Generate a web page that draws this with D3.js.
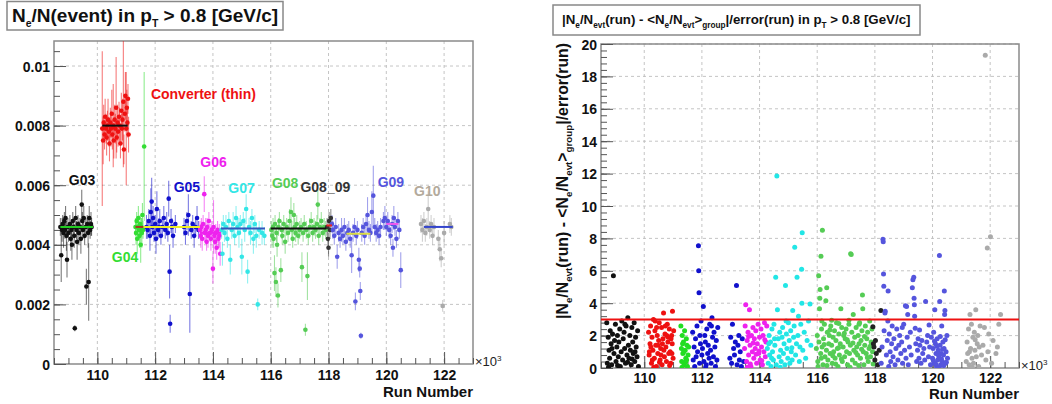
<!DOCTYPE html>
<html><head><meta charset="utf-8">
<script src="https://cdn.jsdelivr.net/npm/d3@7"></script>
<style>body{margin:0;background:#fff}svg{display:block;font-family:"Liberation Sans",Arial,sans-serif}</style>
</head><body><svg id="c" width="1052" height="404"></svg>
<script>
// ---------- axis data ----------
const runTicks = [110,112,114,116,118,120,122];           // x 10^3
const leftYTicks = [0,2,4,6,8,10];                          // units of 1e-3
const leftYTickLabels = ["0","0.002","0.004","0.006","0.008","0.01"];
const rightYTicks = [0,2,4,6,8,10,12,14,16,18,20];
const cutValue = 3;

// ---------- left panel: [run(x10^3), Ne/Nevt (x1e-3), error (x1e-3)] ----------
const g03L = [[108.72,4.6,.3],[108.75,3.65,.9],[108.78,4.5,.4],[108.8,4.7,.3],[108.83,4.4,.5],[108.86,4.8,.3],[108.88,4.5,.3],[108.9,4.9,.4],[108.93,4.3,.5],[108.95,3.5,.6],[108.98,4.6,.3],[109.0,4.4,.3],[109.05,4.7,.3],[109.08,4.2,.4],[109.1,4.5,.3],[109.12,4.0,.5],[109.15,4.8,.3],[109.18,4.6,.3],[109.2,4.3,.4],[109.22,1.2,.1],[109.25,4.9,.4],[109.28,4.5,.3],[109.3,4.1,.6],[109.33,4.7,.3],[109.36,4.4,.4],[109.4,4.6,.3],[109.43,4.2,.5],[109.46,5.35,.5],[109.48,4.8,.3],[109.5,4.5,.3],[109.53,4.9,.4],[109.56,4.3,.3],[109.6,4.6,.3],[109.62,2.6,.6],[109.65,4.7,.3],[109.68,4.4,.5],[109.7,2.75,1.3],[109.72,4.9,.4],[109.75,4.5,.3],[109.78,4.7,.4],[109.8,4.6,.3]];
const convL = [[110.17,7.9,2.6],[110.2,7.5,.8],[110.22,8.1,.6],[110.25,7.7,.5],[110.27,8.3,.6],[110.3,7.9,.5],[110.32,7.6,.6],[110.35,8.0,.5],[110.37,8.2,.7],[110.4,7.8,.5],[110.42,7.4,.6],[110.45,8.1,.5],[110.47,7.9,.6],[110.5,8.4,.8],[110.52,7.7,.5],[110.55,8.0,1.4],[110.57,7.5,.6],[110.6,8.2,.5],[110.62,7.9,.5],[110.65,8.6,1.7],[110.67,7.6,.5],[110.7,8.1,.6],[110.72,7.8,.5],[110.75,8.3,.5],[110.77,8.0,.6],[110.8,7.4,.5],[110.83,8.5,.6],[110.85,7.9,.5],[110.87,8.2,.7],[110.9,8.8,2.2],[110.92,7.2,.5],[110.95,8.4,.6],[110.97,9.0,.8],[111.0,7.9,1.9],[111.02,8.6,.6],[111.04,8.1,.5],[111.06,8.9,.5],[111.08,7.7,.6]];
const g04L = [[111.32,4.6,.3],[111.34,4.4,.4],[111.36,4.8,.3],[111.38,4.2,.5],[111.4,4.6,.3],[111.42,4.9,.4],[111.44,4.5,.3],[111.46,4.3,.4],[111.48,4.7,.3],[111.5,4.0,.6],[111.52,4.6,.3],[111.54,4.4,.5],[111.56,5.0,.4],[111.58,4.5,.3],[111.62,7.3,2.5]];
const g05L = [[111.7,4.6,.4],[111.74,4.5,.3],[111.78,4.8,.4],[111.82,4.3,.5],[111.85,5.1,.8],[111.88,5.45,.8],[111.9,4.6,.3],[111.93,4.9,.4],[111.96,4.4,.3],[112.0,4.7,.3],[112.03,4.2,.5],[112.06,5.2,.6],[112.1,4.5,.3],[112.13,4.6,.3],[112.16,4.8,.4],[112.2,4.3,.3],[112.25,4.6,.3],[112.3,4.9,.4],[112.35,4.5,.3],[112.4,4.7,.4],[112.44,4.4,.3],[112.47,5.55,.6],[112.5,3.1,.9],[112.52,1.35,.3],[112.55,4.8,.4],[112.58,4.6,.3],[112.62,4.3,.4],[112.7,4.7,.3],[113.0,4.6,.3],[113.05,4.4,.4],[113.1,4.8,.3],[113.15,5.0,.7],[113.2,2.35,1.3],[113.25,4.5,.3],[113.3,4.7,.3],[113.35,4.3,.4],[113.4,4.6,.3],[113.45,4.9,.4],[113.5,4.5,.3]];
const g06L = [[113.55,4.5,.3],[113.58,4.3,.4],[113.6,4.6,.3],[113.63,4.2,.4],[113.66,4.7,.3],[113.7,5.7,.6],[113.72,4.4,.3],[113.75,4.5,.4],[113.78,4.1,.3],[113.8,4.6,.3],[113.83,4.3,.4],[113.86,4.8,.3],[113.9,4.4,.3],[113.93,4.2,.4],[113.96,4.5,.3],[114.0,3.2,.5],[114.02,4.6,.9],[114.05,4.3,.3],[114.08,4.1,.4],[114.1,4.4,.3],[114.13,3.9,.4],[114.16,4.5,.3],[114.19,4.2,.3],[114.22,4.3,.4],[114.25,3.7,.4]];
const g07L = [[114.3,4.5,.3],[114.33,3.7,.4],[114.36,4.7,.3],[114.4,4.4,.3],[114.45,4.6,.4],[114.5,4.2,.3],[114.55,4.8,.3],[114.6,3.5,.5],[114.65,4.5,.3],[114.7,4.7,.4],[114.75,4.3,.3],[114.8,4.9,.4],[114.85,4.6,.3],[114.9,4.4,.5],[114.95,4.7,.3],[115.0,3.6,.6],[115.05,4.8,.3],[115.1,4.5,.4],[115.15,5.2,.5],[115.2,3.1,.4],[115.25,4.6,.3],[115.3,4.4,.4],[115.35,4.9,.3],[115.4,4.2,.5],[115.45,4.7,.3],[115.5,4.3,.4],[115.55,2.0,.2],[115.6,4.5,.3],[115.7,4.4,.4],[115.78,4.3,.3]];
const g08L = [[116.02,4.5,.3],[116.05,4.3,.4],[116.08,4.6,.3],[116.1,4.2,.3],[116.13,3.05,.6],[116.15,4.7,.3],[116.18,2.75,.5],[116.2,4.4,.3],[116.22,4.0,.4],[116.25,2.3,.4],[116.27,4.6,.3],[116.3,4.8,.3],[116.35,3.15,.4],[116.38,4.5,.3],[116.4,4.3,.3],[116.45,4.7,.3],[116.5,4.1,.4],[116.55,4.6,.3],[116.6,4.4,.3],[116.65,4.8,.4],[116.7,5.1,.5],[116.73,4.5,.3],[116.76,4.2,.3],[116.8,5.0,.4],[116.83,4.6,.3],[116.86,4.4,.3],[116.9,4.7,.3],[116.95,4.3,.3],[117.0,4.5,.3],[117.05,4.6,.3],[117.08,3.25,.5],[117.12,4.4,.3],[117.16,4.7,.3],[117.2,1.15,.2],[117.23,4.5,.3],[117.27,2.95,.8],[117.3,4.3,.3],[117.35,4.6,.3],[117.4,4.8,.3],[117.45,4.4,.3],[117.5,4.6,.3],[117.55,4.5,.3],[117.6,4.7,.3],[117.63,5.35,.5],[117.66,4.3,.3],[117.7,4.6,.3],[117.75,4.8,.3],[117.8,4.4,.3],[117.85,4.6,.3],[117.9,4.5,.3]];
const g0809L = [[117.95,4.6,.3],[117.98,4.2,.3],[118.0,3.9,.3],[118.02,4.8,.3],[118.05,4.5,.3],[118.08,4.9,.3]];
const g09L = [[118.12,4.7,.3],[118.15,4.5,.3],[118.2,4.3,.3],[118.25,4.6,.3],[118.3,3.6,.4],[118.35,4.4,.3],[118.4,4.2,.3],[118.45,4.5,.4],[118.5,4.3,.3],[118.55,4.6,.3],[118.6,4.1,.3],[118.65,4.4,.3],[118.7,4.5,.3],[118.75,4.2,.3],[118.8,3.65,.6],[118.85,4.4,.3],[118.9,4.6,.3],[118.93,2.1,.3],[118.96,4.3,.3],[119.0,4.5,.3],[119.05,3.5,.4],[119.08,3.2,.3],[119.1,2.45,.3],[119.12,0.95,.1],[119.15,4.4,.3],[119.2,4.6,.3],[119.25,4.3,.3],[119.3,4.7,.3],[119.35,5.0,.6],[119.4,4.5,.3],[119.45,4.4,.3],[119.5,5.1,.7],[119.55,5.65,1.0],[119.6,4.6,.3],[119.65,4.4,.3],[119.7,4.5,.3],[119.75,4.3,.3],[119.8,4.6,.3],[119.9,4.8,.3],[119.95,4.9,.4],[120.0,4.6,.3],[120.05,4.8,.3],[120.1,4.5,.3],[120.15,4.3,.3],[120.2,4.7,.3],[120.23,3.9,.3],[120.26,4.9,.4],[120.3,4.6,.3],[120.35,4.2,.3],[120.4,4.8,.3],[120.45,4.5,.3],[120.5,3.15,.6]];
const g10L = [[121.2,4.7,.3],[121.25,4.5,.4],[121.3,4.8,.3],[121.35,4.4,.3],[121.4,4.6,.3],[121.45,5.2,.6],[121.5,4.5,.3],[121.55,4.7,.3],[121.6,4.3,.3],[121.65,4.6,.3],[121.8,4.2,.3],[121.85,3.85,.4],[121.9,3.55,.3],[121.95,1.95,.2],[122.0,4.4,.4],[122.2,4.7,.3],[122.25,4.6,.3]];
// group mean lines: [from run, to run, mean (x1e-3), colour]
const meanLines = [[108.72,109.85,4.6,"#22cc22"],[110.17,111.05,8.0,"#111111"],[111.32,111.6,4.6,"#aa3322"],[111.6,113.55,4.6,"#eeee22"],[113.55,114.28,4.4,"#ee22ee"],[114.28,115.8,4.55,"#3355bb"],[116.0,117.92,4.55,"#111111"],[117.93,118.12,4.65,"#ee2222"],[118.62,119.45,4.37,"#dddd44"],[120.0,120.42,4.7,"#ee55ee"],[121.3,122.3,4.6,"#3344cc"]];
// group labels: [text, run, value (x1e-3), colour]
const groupLabels = [["G03",109.47,6.0,"#111111"],["Converter (thin)",113.67,8.9,"#ee1111"],["G04",110.96,3.42,"#33dd33"],["G05",113.1,5.77,"#1111cc"],["G06",114.02,6.61,"#ee22ee"],["G07",114.99,5.74,"#33e6e6"],["G08",116.5,5.9,"#55cc55"],["G08_09",117.89,5.77,"#333333"],["G09",120.16,5.94,"#5555dd"],["G10",121.42,5.64,"#b3aa9c"]];

// ---------- right panel: [run(x10^3), |dev|/error] ----------
const g03R = [[108.7,2.8],[108.72,0.3],[108.75,1.9],[108.78,1.1],[108.8,0.6],[108.82,2.3],[108.85,1.5],[108.87,0.2],[108.9,2.1],[108.93,5.7],[108.95,0.9],[108.97,1.7],[109.0,2.7],[109.02,0.4],[109.05,1.3],[109.07,2.0],[109.1,0.7],[109.12,1.6],[109.15,2.4],[109.17,0.1],[109.2,1.0],[109.22,2.9],[109.25,0.5],[109.27,1.8],[109.3,2.2],[109.32,1.2],[109.35,0.3],[109.37,2.6],[109.4,0.8],[109.43,3.1],[109.45,1.4],[109.47,0.6],[109.5,2.0],[109.52,1.1],[109.55,0.2],[109.57,2.5],[109.6,1.6],[109.62,0.9],[109.65,2.8],[109.67,0.4],[109.7,1.9],[109.72,1.3],[109.75,0.7],[109.77,2.3],[109.8,0.1],[108.76,0.05],[109.08,0.15],[109.42,0.35],[109.58,0.55],[108.88,1.2],[109.33,2.7],[109.68,1.0]];
const convR = [[110.15,2.2],[110.17,0.8],[110.2,1.5],[110.22,2.6],[110.25,0.3],[110.27,1.9],[110.3,1.1],[110.32,3.0],[110.35,0.6],[110.37,2.3],[110.4,1.4],[110.42,0.1],[110.45,2.0],[110.47,0.9],[110.5,1.7],[110.52,2.8],[110.55,0.5],[110.57,1.2],[110.6,2.5],[110.62,0.2],[110.65,1.8],[110.67,3.4],[110.7,0.7],[110.72,2.1],[110.75,1.3],[110.77,0.4],[110.8,2.7],[110.82,1.6],[110.85,0.9],[110.87,2.4],[110.9,1.0],[110.92,0.3],[110.95,2.0],[110.97,1.5],[110.98,3.5],[111.0,0.6],[111.02,2.3],[110.18,1.0],[110.28,0.5],[110.38,2.9],[110.48,1.4],[110.58,0.8],[110.68,1.1],[110.78,2.0],[110.88,0.15],[110.96,0.9],[110.23,1.3],[110.43,2.5],[110.63,1.5],[110.83,1.9],[110.33,0.05],[110.53,0.35],[110.73,2.6],[110.93,1.8]];
const g04R = [[111.27,2.6],[111.29,1.2],[111.3,0.4],[111.32,2.0],[111.34,0.9],[111.36,1.6],[111.38,0.2],[111.4,2.3],[111.42,1.1],[111.44,0.6],[111.46,1.8],[111.48,1.4],[111.5,0.1],[111.52,0.8],[111.54,1.3],[111.31,0.05],[111.43,0.35],[111.37,1.0],[111.47,0.5],[111.33,1.5]];
const g05R = [[111.68,2.2],[111.7,0.5],[111.73,1.3],[111.75,0.1],[111.78,1.8],[111.8,0.7],[111.83,2.6],[111.85,1.0],[111.88,7.55],[111.89,6.0],[111.9,4.65],[111.92,0.3],[111.95,1.5],[111.97,2.9],[112.0,0.8],[112.02,1.2],[112.05,3.8],[112.07,0.4],[112.1,2.0],[112.12,1.6],[112.15,0.2],[112.17,2.4],[112.2,0.9],[112.22,1.4],[112.25,0.6],[112.27,2.7],[112.3,1.1],[112.32,0.3],[112.35,3.1],[112.37,1.9],[112.4,0.7],[112.42,2.2],[112.45,1.3],[112.47,0.1],[112.5,1.7],[112.52,0.5],[112.55,2.5],[111.93,2.0],[112.13,0.05],[112.33,2.6],[112.97,0.6],[113.0,1.9],[113.03,0.3],[113.06,2.7],[113.1,1.2],[113.13,0.8],[113.16,1.6],[113.2,5.1],[113.22,0.2],[113.25,1.4],[113.28,2.0],[113.3,0.5],[113.33,1.0],[113.37,0.1],[113.4,1.8],[113.45,0.4]];
const g06R = [[113.48,1.2],[113.5,2.6],[113.52,3.9],[113.55,0.4],[113.57,1.7],[113.6,2.2],[113.62,0.8],[113.65,3.6],[113.67,1.4],[113.7,0.1],[113.72,2.0],[113.75,1.0],[113.77,2.5],[113.8,0.6],[113.82,1.8],[113.85,1.2],[113.87,2.3],[113.9,0.3],[113.92,1.5],[113.95,2.7],[113.97,0.9],[114.0,1.9],[114.02,0.5],[114.05,2.4],[114.07,1.3],[114.1,0.2],[114.12,2.0],[114.15,1.0],[114.17,2.8],[114.2,0.7],[114.22,1.6],[114.25,2.6],[113.58,0.05],[113.68,0.25],[113.78,1.55],[113.88,0.85],[113.98,1.05],[114.08,0.45],[114.18,1.75],[113.62,1.95]];
const g07R = [[114.27,1.2],[114.3,0.3],[114.33,2.0],[114.35,0.8],[114.38,1.6],[114.4,0.1],[114.43,2.4],[114.45,1.0],[114.48,0.5],[114.5,2.7],[114.53,1.4],[114.56,5.6],[114.58,0.2],[114.6,11.85],[114.62,3.6],[114.65,1.8],[114.68,0.7],[114.7,2.2],[114.73,1.1],[114.75,0.4],[114.78,1.9],[114.8,2.5],[114.83,0.9],[114.85,1.5],[114.88,0.2],[114.9,5.1],[114.93,2.1],[114.95,1.2],[114.98,0.6],[115.0,2.8],[115.03,1.7],[115.05,0.3],[115.08,2.3],[115.1,1.0],[115.13,0.5],[115.15,3.55],[115.18,1.9],[115.2,2.6],[115.22,7.45],[115.25,0.8],[115.28,1.5],[115.3,5.6],[115.33,2.0],[115.35,3.2],[115.38,0.4],[115.4,1.3],[115.43,2.7],[115.46,6.1],[115.47,4.0],[115.48,8.35],[115.5,1.1],[115.55,2.2],[115.6,0.6],[115.65,1.7],[115.7,2.9],[115.75,3.95],[115.78,1.4],[114.32,1.5],[114.42,0.6],[114.52,1.8],[114.72,0.05],[114.92,2.9],[115.12,1.25]];
const g08R = [[115.97,1.2],[116.0,2.0],[116.02,0.4],[116.05,5.7],[116.06,1.6],[116.08,3.65],[116.09,4.3],[116.1,4.85],[116.12,0.9],[116.13,6.9],[116.15,2.4],[116.17,1.3],[116.18,8.5],[116.2,0.2],[116.22,1.8],[116.25,2.7],[116.27,0.7],[116.3,4.15],[116.32,1.1],[116.33,4.95],[116.35,2.2],[116.37,0.5],[116.4,1.5],[116.42,2.0],[116.45,0.9],[116.47,2.6],[116.5,1.4],[116.52,0.3],[116.55,1.9],[116.57,1.0],[116.6,2.3],[116.62,0.6],[116.65,1.7],[116.67,2.8],[116.7,1.2],[116.72,0.1],[116.75,2.1],[116.77,0.8],[116.8,1.5],[116.82,3.65],[116.85,2.5],[116.87,0.4],[116.9,1.3],[116.92,2.0],[116.95,0.7],[116.97,1.8],[117.0,2.4],[117.02,1.0],[117.05,0.2],[117.07,1.6],[117.1,2.7],[117.12,0.9],[117.15,1.4],[117.16,7.05],[117.18,7.0],[117.2,2.2],[117.22,0.5],[117.25,3.3],[117.27,1.1],[117.3,1.9],[117.32,0.3],[117.35,2.5],[117.37,1.3],[117.4,0.8],[117.42,2.0],[117.45,1.5],[117.47,2.8],[117.5,0.6],[117.52,1.7],[117.55,2.3],[117.57,4.5],[117.58,3.65],[117.6,1.0],[117.62,0.2],[117.65,1.4],[117.67,2.6],[117.7,0.9],[117.72,1.8],[117.75,2.2],[117.77,0.4],[117.8,1.2],[117.82,2.9],[117.85,0.7],[117.87,1.6],[117.9,2.4],[117.92,1.0],[116.03,0.1],[116.14,0.6],[116.24,1.45],[116.34,0.15],[116.44,2.35],[116.54,0.75],[116.64,0.25],[116.74,1.25],[116.84,0.55],[116.94,2.15],[117.04,1.75],[117.14,0.05],[117.24,1.55],[117.34,0.95],[117.44,0.15],[117.54,1.15],[117.64,1.95],[117.74,0.65],[117.84,1.35],[117.94,0.25],[116.16,2.9],[116.5,2.95],[116.75,2.75],[117.1,2.95],[117.45,2.7]];
const g0809R = [[117.93,2.55],[117.95,1.5],[117.97,1.3],[118.0,0.5],[118.02,1.7],[118.05,0.9],[118.1,0.2],[118.21,3.55],[118.15,1.1]];
const g09R = [[118.22,0.3],[118.25,1.3],[118.28,7.95],[118.29,7.8],[118.3,5.8],[118.31,5.05],[118.32,2.3],[118.35,3.4],[118.36,3.5],[118.4,0.8],[118.43,1.7],[118.46,4.75],[118.48,0.1],[118.5,2.1],[118.53,1.0],[118.55,0.4],[118.58,1.5],[118.6,2.6],[118.63,0.7],[118.66,1.8],[118.7,0.2],[118.73,1.2],[118.76,2.4],[118.8,0.5],[118.83,1.4],[118.86,2.0],[118.9,0.9],[118.93,1.6],[118.96,0.3],[119.0,2.7],[119.03,1.1],[119.06,3.85],[119.08,0.6],[119.1,3.8],[119.12,1.9],[119.14,3.3],[119.16,0.2],[119.2,1.3],[119.23,2.2],[119.26,0.8],[119.3,4.95],[119.32,5.45],[119.35,5.6],[119.36,4.3],[119.37,3.9],[119.38,3.2],[119.4,2.45],[119.42,1.5],[119.45,0.4],[119.48,1.1],[119.5,1.8],[119.53,0.6],[119.56,1.4],[119.6,0.3],[119.63,1.7],[119.66,0.9],[119.7,1.2],[119.73,0.5],[119.76,4.1],[119.8,1.6],[119.83,2.0],[119.86,0.7],[119.9,1.3],[119.93,0.2],[119.96,1.9],[120.0,0.6],[120.02,1.2],[120.04,2.2],[120.06,0.3],[120.08,3.6],[120.1,1.5],[120.12,0.9],[120.14,0.1],[120.16,1.8],[120.18,0.5],[120.2,1.1],[120.22,0.7],[120.24,6.95],[120.25,4.1],[120.26,1.4],[120.28,0.2],[120.3,0.9],[120.32,2.6],[120.34,0.4],[120.36,1.6],[120.38,0.8],[120.4,1.2],[120.41,4.75],[120.42,3.3],[120.43,3.55],[120.45,0.3],[120.47,1.0],[120.5,2.0],[120.52,0.6],[120.03,0.45],[120.07,1.65],[120.11,0.25],[120.15,1.35],[120.19,0.85],[120.23,0.05],[120.27,1.95],[120.31,0.55],[120.35,1.15],[120.39,0.15],[120.44,1.75],[120.48,0.35],[118.45,2.9],[118.95,2.5],[119.55,2.35],[119.88,2.65]];
const g10R = [[121.17,0.4],[121.2,1.6],[121.22,0.9],[121.25,2.4],[121.27,0.2],[121.3,3.3],[121.32,1.2],[121.35,2.7],[121.37,0.6],[121.4,1.9],[121.42,0.3],[121.45,2.2],[121.47,1.1],[121.5,3.6],[121.52,0.7],[121.55,1.5],[121.57,2.0],[121.6,0.1],[121.62,1.3],[121.65,2.6],[121.7,0.8],[121.75,1.4],[121.8,2.5],[121.83,19.3],[121.85,0.5],[121.9,7.4],[121.92,1.0],[121.95,2.1],[122.01,8.1],[122.05,0.3],[122.1,1.7],[122.2,0.9],[122.25,1.3],[122.3,2.7],[122.36,3.3],[121.28,1.0],[121.38,0.05],[121.48,1.75]];

// colour per group (table built from the arrays above)
const leftSets  = [[g03L,"#111111"],[convL,"#ee1111"],[g04L,"#33dd33"],[g05L,"#1111cc"],[g06L,"#ee22ee"],[g07L,"#33e6e6"],[g08L,"#55cc55"],[g0809L,"#333333"],[g09L,"#5555dd"],[g10L,"#aaaaaa"]];
const rightSets = [[g03R,"#111111"],[convR,"#ee1111"],[g04R,"#22dd22"],[g05R,"#1111cc"],[g06R,"#ee22ee"],[g07R,"#22e6e6"],[g08R,"#55cc55"],[g0809R,"#222222"],[g09R,"#5555dd"],[g10R,"#aaaaaa"]];

const svg = d3.select("#c");
const FONT = '"Liberation Sans",Arial,sans-serif';

function rich(t, parts, fs, subScale){
  const sc = subScale || 0.62;
  let shift = 0;
  parts.forEach(p=>{
    const [txt,k] = typeof p === "string" ? [p,null] : p;
    const target = k==="sub" ? fs*0.28 : k==="sup" ? -fs*0.4 : 0;
    const ts = t.append("tspan").attr("dy", target-shift).text(txt);
    if(k) ts.attr("font-size", fs*sc);
    shift = target;
  });
}

function panel(o){
  const g = svg.append("g");
  const x = d3.scaleLinear().domain([108.5,123]).range([o.x0,o.x1]);
  const y = d3.scaleLinear().domain(o.yDomain).range([o.y1,o.y0]);
  const clipId = "clip"+o.id;
  svg.append("clipPath").attr("id",clipId).append("rect")
     .attr("x",o.x0).attr("y",o.y0).attr("width",o.x1-o.x0).attr("height",o.y1-o.y0);
  // grid
  g.append("g").selectAll("line").data(runTicks).join("line")
    .attr("x1",d=>x(d)).attr("x2",d=>x(d)).attr("y1",o.y0).attr("y2",o.y1)
    .attr("stroke","#bdbdbd").attr("stroke-dasharray","3,3").attr("stroke-width",0.9);
  g.append("g").selectAll("line").data(o.yTicks.filter(d=>d>0)).join("line")
    .attr("x1",o.x0).attr("x2",o.x1).attr("y1",d=>y(d)).attr("y2",d=>y(d))
    .attr("stroke","#bdbdbd").attr("stroke-dasharray","3,3").attr("stroke-width",0.9);
  // frame
  g.append("rect").attr("x",o.x0).attr("y",o.y0).attr("width",o.x1-o.x0).attr("height",o.y1-o.y0)
    .attr("fill","none").attr("stroke","#8a8a8a").attr("stroke-width",1.5);
  // axes
  const minorX = d3.range(108.5,123.01,0.5);
  const minorY = d3.range(o.yDomain[0], o.yDomain[1], o.yMinor);
  const ax = g.append("g").attr("transform",`translate(0,${o.y1})`)
    .call(d3.axisBottom(x).tickValues(runTicks).tickSize(-12).tickPadding(0).tickFormat(d3.format("d")));
  g.append("g").attr("transform",`translate(0,${o.y1})`)
    .call(d3.axisBottom(x).tickValues(minorX).tickSize(-6).tickFormat(""));
  const ay = g.append("g").attr("transform",`translate(${o.x0},0)`)
    .call(d3.axisLeft(y).tickValues(o.yTicks).tickSize(-12).tickPadding(4).tickFormat((d,i)=>o.yLabels[i]));
  g.append("g").attr("transform",`translate(${o.x0},0)`)
    .call(d3.axisLeft(y).tickValues(minorY).tickSize(-6).tickFormat(""));
  g.selectAll(".domain").remove();
  g.selectAll(".tick line").attr("stroke","#555").attr("stroke-width",1);
  g.selectAll(".tick text").attr("font-family",FONT).attr("font-weight","bold").attr("font-size",14).attr("fill","#111");
  ax.selectAll(".tick text").attr("y", o.xLabelOff).attr("dy", 0);
  ay.selectAll(".tick text").attr("x", -4).attr("dy","0.36em");
  // x10^3
  const m = g.append("text").attr("x",o.x1+2).attr("y",o.y1+2).attr("font-family",FONT).attr("font-size",13).attr("fill","#222");
  rich(m,["\u00d710",["3","sup"]],13);
  g.append("text").attr("x",o.x1).attr("y",o.runY).attr("text-anchor","end")
    .attr("font-family",FONT).attr("font-weight","bold").attr("font-size",15).attr("fill","#111").text("Run Number");
  return {g,x,y,clip:`url(#${clipId})`};
}

// ---------- LEFT ----------
const L = panel({id:"L",x0:54,x1:473,y0:41,y1:364,yDomain:[0,10.84],yTicks:leftYTicks,yLabels:leftYTickLabels,yMinor:0.5,xLabelOff:16,runY:397});
const lp = L.g.append("g").attr("clip-path",L.clip);
leftSets.forEach(([data,col])=>{
  lp.append("g").selectAll("line").data(data).join("line")
    .attr("x1",d=>L.x(d[0])).attr("x2",d=>L.x(d[0]))
    .attr("y1",d=>L.y(d[1]-d[2])).attr("y2",d=>L.y(d[1]+d[2]))
    .attr("stroke",col).attr("stroke-opacity",0.55).attr("stroke-width",1.1);
});
leftSets.forEach(([data,col])=>{
  lp.append("g").selectAll("circle").data(data).join("circle")
    .attr("cx",d=>L.x(d[0])).attr("cy",d=>L.y(d[1])).attr("r",2.3).attr("fill",col);
});
lp.append("g").selectAll("line").data(meanLines).join("line")
  .attr("x1",d=>L.x(d[0])).attr("x2",d=>L.x(d[1])).attr("y1",d=>L.y(d[2])).attr("y2",d=>L.y(d[2]))
  .attr("stroke",d=>d[3]).attr("stroke-width",2);
L.g.append("g").selectAll("text").data(groupLabels).join("text")
  .attr("x",d=>L.x(d[1])).attr("y",d=>L.y(d[2])).attr("text-anchor","middle")
  .attr("font-family",FONT).attr("font-weight","bold").attr("font-size",14).attr("fill",d=>d[3]).text(d=>d[0]);
// left title
svg.append("rect").attr("x",7).attr("y",1.5).attr("width",276).attr("height",28.5).attr("fill","#fff").attr("stroke","#888").attr("stroke-width",1.5);
const tl = svg.append("text").attr("x",12).attr("y",22).attr("font-family",FONT).attr("font-weight","bold").attr("font-size",19).attr("fill","#111");
rich(tl,["N",["e","sub"],"/N(event) in p",["T","sub"]," > 0.8 [GeV/c]"],19,0.55);

// ---------- RIGHT ----------
const R = panel({id:"R",x0:601,x1:1019,y0:44,y1:368,yDomain:[0,20],yTicks:rightYTicks,yLabels:rightYTicks.map(String),yMinor:0.4,xLabelOff:15,runY:399});
const rp = R.g.append("g").attr("clip-path",R.clip);
rightSets.forEach(([data,col])=>{
  rp.append("g").selectAll("circle").data(data).join("circle")
    .attr("cx",d=>R.x(d[0])).attr("cy",d=>R.y(d[1])).attr("r",2.5).attr("fill",col);
});
rp.append("line").attr("x1",R.x(108.5)).attr("x2",R.x(123)).attr("y1",R.y(cutValue)).attr("y2",R.y(cutValue))
  .attr("stroke","#ee1111").attr("stroke-width",2);
// right title
svg.append("rect").attr("x",553).attr("y",5).attr("width",367).attr("height",30).attr("fill","#fff").attr("stroke","#888").attr("stroke-width",1.5);
const tr = svg.append("text").attr("x",562).attr("y",24).attr("font-family",FONT).attr("font-weight","bold").attr("font-size",13.3).attr("fill","#111");
rich(tr,["|N",["e","sub"],"/N",["evt","sub"],"(run) - <N",["e","sub"],"/N",["evt","sub"],">",["group","sub"],"|/error(run) in p",["T","sub"]," > 0.8 [GeV/c]"],13.3);
// right y label
const yl = svg.append("text").attr("transform","translate(568,181) rotate(-90)").attr("text-anchor","middle")
  .attr("font-family",FONT).attr("font-weight","bold").attr("font-size",15.8).attr("fill","#111");
rich(yl,["|N",["e","sub"],"/N",["evt","sub"],"(run) - <N",["e","sub"],"/N",["evt","sub"],">",["group","sub"],"|/error(run)"],15.8);
</script></body></html>
